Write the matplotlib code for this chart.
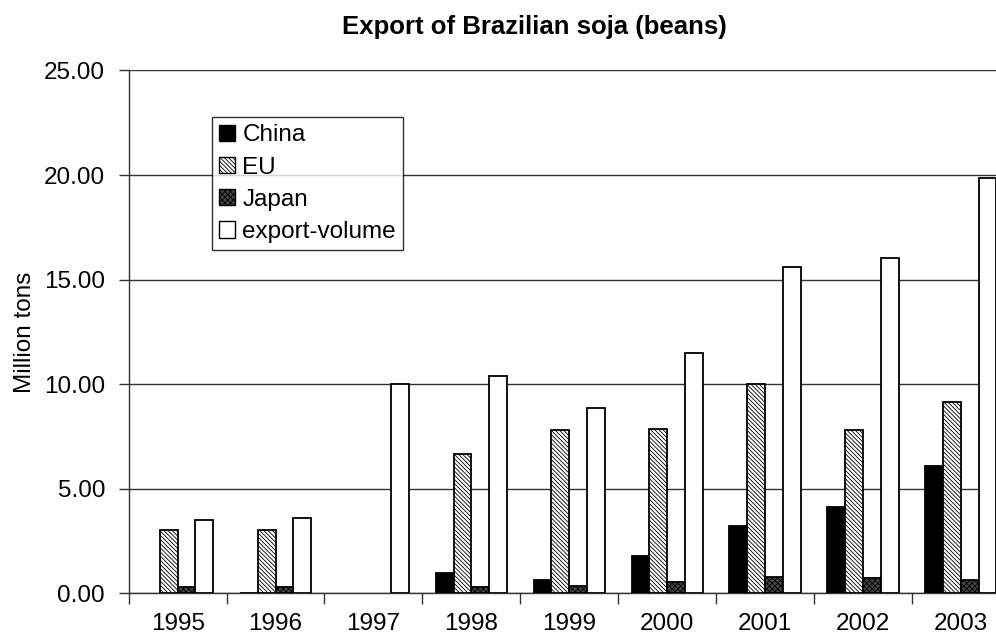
import matplotlib
matplotlib.use("Agg")
import matplotlib.pyplot as plt
import numpy as np
from matplotlib.patches import Patch

years = ["1995", "1996", "1997", "1998", "1999", "2000", "2001", "2002", "2003"]
china = [0.0, 0.03, 0.0, 0.96, 0.63, 1.79, 3.21, 4.13, 6.11]
eu = [3.01, 3.01, 0.0, 6.68, 7.80, 7.88, 10.01, 7.80, 9.17]
japan = [0.32, 0.32, 0.0, 0.32, 0.36, 0.54, 0.77, 0.72, 0.63]
export_volume = [3.49, 3.59, 9.99, 10.40, 8.88, 11.51, 15.62, 16.02, 19.88]
series_names = ["China", "EU", "Japan", "export-volume"]
yticks = [0, 5, 10, 15, 20, 25]

plt.rcParams['font.family'] = ['Liberation Sans', 'DejaVu Sans']
plt.rcParams['hatch.linewidth'] = 0.6

FS = 17.5

fig = plt.figure(figsize=(9.96, 6.39), dpi=100)
ax = fig.add_axes([0.1292, 0.0715, 0.8847, 0.8182])

x = np.arange(len(years))
w = 1 / 5.5
styles = [
    dict(facecolor="black", hatch=None),
    dict(facecolor="white", hatch="\\\\\\\\\\\\\\\\"),
    dict(facecolor="#444444", hatch="xxxxxx"),
    dict(facecolor="white", hatch=None),
]
data = [china, eu, japan, export_volume]
handles = []
for i, (vals, st, name) in enumerate(zip(data, styles, series_names)):
    vals = np.array(vals)
    pos = x + (i - 1.5) * w
    mask = vals > 0
    ax.bar(pos[mask], vals[mask], width=w, facecolor=st["facecolor"], hatch=st["hatch"],
           edgecolor="black", linewidth=1.3, zorder=3)
    handles.append(Patch(facecolor=st["facecolor"], hatch=st["hatch"], edgecolor="black",
                         linewidth=1.0, label=name))

ax.set_xlim(-0.5, 8.5)
ax.set_ylim(0, 25)
ax.set_yticks(yticks)
ax.set_yticklabels([f"{v:.2f}" for v in yticks], fontsize=FS)
ax.yaxis.grid(True, color="#333333", linewidth=1.0, zorder=0)
ax.set_axisbelow(True)

ax.set_xticks(np.arange(-0.5, 9.0, 1.0))
ax.set_xticklabels([])
ax.set_xticks(x, minor=True)
ax.set_xticklabels(years, minor=True, fontsize=FS)
ax.tick_params(axis="x", which="minor", length=0, pad=14)
ax.tick_params(axis="x", which="major", length=8, width=1, color="#333333")
ax.tick_params(axis="y", length=7, width=1, color="#333333", pad=10)

for s in ["top", "right"]:
    ax.spines[s].set_visible(False)
for s in ["left", "bottom"]:
    ax.spines[s].set_color("#333333")
    ax.spines[s].set_linewidth(1.0)

ax.set_ylabel("Million tons", fontsize=FS)
ax.yaxis.set_label_coords(-(128.7 - 36) / 881.2, 0.5)

fig.text(342 / 996, 1 - 34 / 639, "Export of Brazilian soja (beans)", ha="left", va="baseline",
         fontsize=18.5, fontweight="bold")

leg = ax.legend(handles=handles, loc="upper left", bbox_to_anchor=(0.0945, 0.911),
                borderaxespad=0, fontsize=FS, frameon=True, fancybox=False,
                handlelength=0.65, handleheight=0.65, handletextpad=0.3,
                labelspacing=0.42, borderpad=0.3)
leg.get_frame().set_edgecolor("black")
leg.get_frame().set_linewidth(1.0)
leg.set_zorder(5)

fig.savefig("out.png", dpi=100)
